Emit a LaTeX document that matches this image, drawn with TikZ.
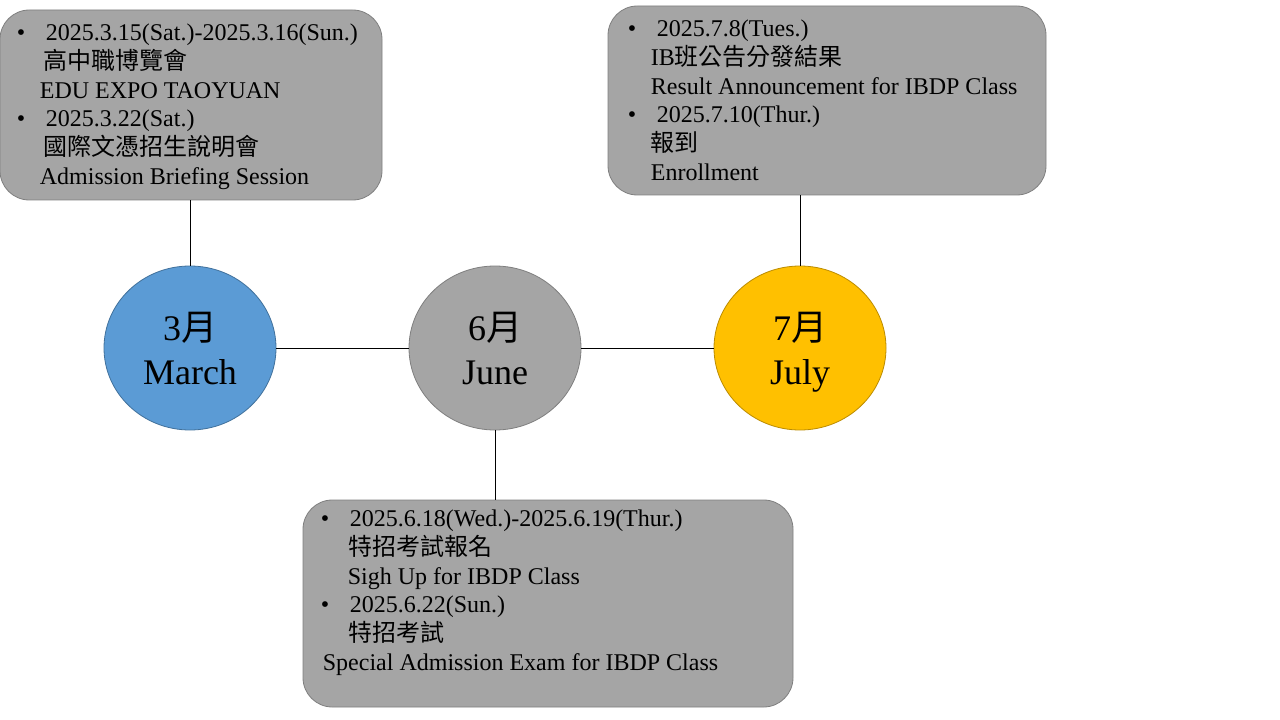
\documentclass[tikz,border=0pt]{standalone}
\usepackage{fontspec}
\setmainfont{Liberation Serif}
\newfontfamily\cjk{Noto Sans CJK TC}
\usetikzlibrary{shapes.geometric}
\tikzset{>=latex}
\definecolor{mblue}{HTML}{5B9BD5}
\definecolor{mbluedark}{HTML}{41719C}
\definecolor{mgray}{HTML}{A5A5A5}
\definecolor{mgraydark}{HTML}{7F7F7F}
\definecolor{mgold}{HTML}{FFC000}
\definecolor{mgolddark}{HTML}{BC8C00}
\tikzset{
    month/.style={ellipse, draw, line width=0.6pt, minimum width=129pt, minimum height=123pt, inner sep=0pt, align=center, font=\fontsize{27}{33}\selectfont},
    eventbox/.style={draw=mgraydark, fill=mgray, line width=0.6pt, rounded corners=22pt, inner sep=0pt},
    eventtext/.style={anchor=north west, inner sep=0pt, align=left, font=\fontsize{18}{21.5}\selectfont},
    link/.style={line width=0.75pt}
}
\newcommand{\itm}{\makebox[21.75pt][l]{•}}
\newcommand{\ind}[1]{\hspace*{#1}}
\newcommand{\tall}{\rule{0pt}{32pt}}

\begin{document}
\begin{tikzpicture}[x=0.75pt, y=-0.75pt]
    \useasboundingbox (0, 0) rectangle (1280, 720);
    \node[month, fill=mblue, draw=mbluedark] (march) at (190, 348) {\tall 3{\cjk 月}\\\strut March};
    \node[month, fill=mgray, draw=mgraydark] (june) at (495, 348) {\tall 6{\cjk 月}\\\strut June};
    \node[month, fill=mgold, draw=mgolddark] (july) at (800, 348) {\tall 7{\cjk 月}\\\strut July};
    \node[eventbox, minimum width=286.5pt, minimum height=142.5pt] (marchbox) at (191, 105) {};
    \node[eventbox, minimum width=328.5pt, minimum height=141.75pt] (julybox) at (827, 100.5) {};
    \node[eventbox, minimum width=367.5pt, minimum height=155.25pt] (junebox) at (548, 603.5) {};
    \node[eventtext] (marchtext) at ([shift={(17, 14.3)}]marchbox.north west) {\itm 2025.3.15(Sat.)-2025.3.16(Sun.)\\ \ind{20.25pt}{\cjk 高中職博覽會}\\ \ind{17.25pt}EDU EXPO TAOYUAN\\ \itm 2025.3.22(Sat.)\\ \ind{20.25pt}{\cjk 國際文憑招生說明會}\\ \ind{17.25pt}Admission Briefing Session};
    \node[eventtext] (julytext) at ([shift={(20, 14.3)}]julybox.north west) {\itm 2025.7.8(Tues.)\\ \ind{17.25pt}IB{\cjk 班公告分發結果}\\ \ind{17.25pt}Result Announcement for IBDP Class\\ \itm 2025.7.10(Thur.)\\ \ind{17.25pt}{\cjk 報到}\\ \ind{17.25pt}Enrollment};
    \node[eventtext] (junetext) at ([shift={(18, 10.3)}]junebox.north west) {\itm 2025.6.18(Wed.)-2025.6.19(Thur.)\\ \ind{21pt}{\cjk 特招考試報名}\\ \ind{20.25pt}Sigh Up for IBDP Class\\ \itm 2025.6.22(Sun.)\\ \ind{21pt}{\cjk 特招考試}\\ \ind{1.5pt}Special Admission Exam for IBDP Class};
    \draw[link] (march.north) -- (march.north |- marchbox.south);
    \draw[link] (july.north) -- (july.north |- julybox.south);
    \draw[link] (june.south) -- (june.south |- junebox.north);
    \draw[link] (march.east) -- (june.west);
    \draw[link] (june.east) -- (july.west);
\end{tikzpicture}
\end{document}
